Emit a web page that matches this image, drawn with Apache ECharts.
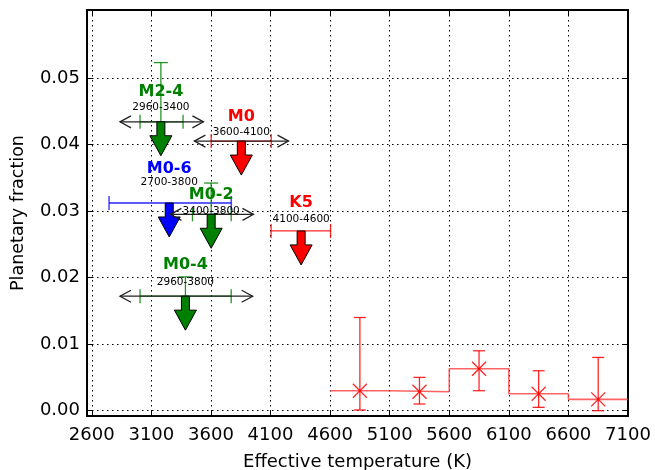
<!DOCTYPE html>
<html><head><meta charset="utf-8">
<script src="https://cdn.jsdelivr.net/npm/echarts@6/dist/echarts.min.js"></script>
<style>html,body{margin:0;padding:0;background:#fff}#c{width:655px;height:470px}</style>
</head><body><div id="c"></div>
<script>
// ---- data ----
const xTicks = [2600,3100,3600,4100,4600,5100,5600,6100,6600,7100];
const yTicks = [0,0.01,0.02,0.03,0.04,0.05];

const groupNames  = ['M2-4','M0','M0-6','M0-2','K5','M0-4'];
const groupRanges = ['2960-3400','3600-4100','2700-3800','3400-3800','4100-4600','2960-3800'];
const limitTeff   = [3180,3855,3250,3602,4357,3386];
const limitFrac   = [0.0434,0.0405,0.0312,0.0295,0.0270,0.0172];
const errTeffLow  = [3005,3602,2745,3445,4105,3005];
const errTeffHigh = [3366,4106,3770,3770,4604,3770];
const errFracHigh = [0.0523,null,null,0.0342,null,0.0201];
const spanTeffLow = [2837,3461,null,3260,null,2837];
const spanTeffHigh= [3537,4251,null,3957,null,3950];
const labelFrac   = [0.0479,0.0441,0.0364,0.0325,0.0312,0.0219];
const rangeFrac   = [0.0456,0.0419,0.0343,0.0300,0.0288,0.0193];

const binLow      = [4600,5100,5600,6100,6600];
const binHigh     = [5100,5600,6100,6600,7100];
const binCenter   = [4850,5350,5850,6350,6850];
const binFrac     = [0.0030,0.00285,0.0063,0.00255,0.0017];
const binFracLow  = [0.0001,0.0010,0.0030,0.0005,0.0000];
const binFracHigh = [0.0140,0.0050,0.0090,0.0060,0.0080];

// ---- styles ----
const groupColor = ['#008000','#ff0000','#0000ff','#008000','#ff0000','#008000'];
const ARROW_LEN = 0.0051;
const FONT = '"DejaVu Sans", "Liberation Sans", sans-serif';

const chart = echarts.init(document.getElementById('c'), null, {renderer:'canvas'});

function renderGroup(params, api) {
  const i = api.value(2);
  const c = groupColor[i];
  const y = limitFrac[i];
  const p = api.coord([limitTeff[i], y]);
  const tip = api.coord([limitTeff[i], y - ARROW_LEN]);
  const ch = [];
  // horizontal error bar
  const a = api.coord([errTeffLow[i], y]), b = api.coord([errTeffHigh[i], y]);
  const es = {stroke:c, lineWidth:1.3, opacity:0.85};
  ch.push({type:'line', shape:{x1:a[0],y1:a[1],x2:b[0],y2:b[1]}, style:es});
  ch.push({type:'line', shape:{x1:a[0],y1:a[1]-7,x2:a[0],y2:a[1]+7}, style:es});
  ch.push({type:'line', shape:{x1:b[0],y1:b[1]-7,x2:b[0],y2:b[1]+7}, style:es});
  // vertical error bar (upper)
  if (errFracHigh[i] != null) {
    const t = api.coord([limitTeff[i], errFracHigh[i]]);
    ch.push({type:'line', shape:{x1:p[0],y1:p[1],x2:t[0],y2:t[1]}, style:es});
    ch.push({type:'line', shape:{x1:t[0]-7,y1:t[1],x2:t[0]+7,y2:t[1]}, style:es});
  }
  // black double-headed span
  if (spanTeffLow[i] != null) {
    const l = api.coord([spanTeffLow[i], y]), r = api.coord([spanTeffHigh[i], y]);
    const ss = {stroke:'#222', lineWidth:1.3, fill:null};
    ch.push({type:'line', shape:{x1:l[0],y1:l[1],x2:r[0],y2:r[1]}, style:ss});
    ch.push({type:'polyline', shape:{points:[[l[0]+11,l[1]-6],[l[0],l[1]],[l[0]+11,l[1]+6]]}, style:ss});
    ch.push({type:'polyline', shape:{points:[[r[0]-11,r[1]-6],[r[0],r[1]],[r[0]-11,r[1]+6]]}, style:ss});
  }
  // downward arrow (upper limit)
  const x = p[0], hy = tip[1] - 20;
  ch.push({type:'polygon', shape:{points:[[x-4,p[1]],[x+4,p[1]],[x+4,hy],[x+11,hy],[x,tip[1]],[x-11,hy],[x-4,hy]]},
           style:{fill:c, stroke:'#000', lineWidth:1}});
  // labels
  const lp = api.coord([limitTeff[i], labelFrac[i]]);
  const rp = api.coord([limitTeff[i], rangeFrac[i]]);
  ch.push({type:'text', x:lp[0], y:lp[1], style:{text:groupNames[i], fill:c, font:'bold 16px '+FONT, align:'center', verticalAlign:'middle'}});
  ch.push({type:'text', x:rp[0], y:rp[1], style:{text:groupRanges[i], fill:'#000', font:'10.5px '+FONT, align:'center', verticalAlign:'middle'}});
  return {type:'group', children:ch};
}

function renderBin(params, api) {
  const i = api.value(2);
  const p = api.coord([binCenter[i], binFrac[i]]);
  const lo = api.coord([binCenter[i], binFracLow[i]]);
  const hi = api.coord([binCenter[i], binFracHigh[i]]);
  const s = {stroke:'#ff0000', lineWidth:1.3, opacity:0.85};
  const m = 7;
  return {type:'group', children:[
    {type:'line', shape:{x1:lo[0],y1:lo[1],x2:hi[0],y2:hi[1]}, style:s},
    {type:'line', shape:{x1:lo[0]-6,y1:lo[1],x2:lo[0]+6,y2:lo[1]}, style:s},
    {type:'line', shape:{x1:hi[0]-6,y1:hi[1],x2:hi[0]+6,y2:hi[1]}, style:s},
    {type:'line', shape:{x1:p[0]-m,y1:p[1]-m,x2:p[0]+m,y2:p[1]+m}, style:s},
    {type:'line', shape:{x1:p[0]-m,y1:p[1]+m,x2:p[0]+m,y2:p[1]-m}, style:s}
  ]};
}

const stepData = [];
binLow.forEach((l,i)=>{ stepData.push([l, binFrac[i]]); stepData.push([binHigh[i], binFrac[i]]); });

const XMIN = 2560, XMAX = 7100, YMIN = -0.0008, YMAX = 0.0602;
const frame = {onZero:false, lineStyle:{color:'#000', width:2}};
const grid = {type:[1.5,3.5], color:'#000', width:1};

chart.setOption({
  animation:false,
  backgroundColor:'#fff',
  grid:{left:87, right:27, top:10, bottom:54, containLabel:false, outerBoundsMode:'none'},
  xAxis:[
    {type:'value', min:XMIN, max:XMAX, position:'bottom', axisLine:frame,
     axisTick:{inside:true, length:6, customValues:xTicks, lineStyle:{color:'#000'}},
     axisLabel:{customValues:xTicks, fontSize:18, fontFamily:FONT, color:'#000', margin:10,
                formatter:v=>String(v)},
     splitLine:{show:true, lineStyle:grid},
     name:'Effective temperature (K)', nameLocation:'middle', nameGap:37,
     nameTextStyle:{fontSize:18, fontFamily:FONT, color:'#000'}},
    {type:'value', min:XMIN, max:XMAX, position:'top', axisLine:frame,
     axisTick:{inside:true, length:6, customValues:xTicks, lineStyle:{color:'#000'}},
     axisLabel:{show:false}, splitLine:{show:false}}
  ],
  yAxis:[
    {type:'value', min:YMIN, max:YMAX, position:'left', axisLine:frame,
     axisTick:{inside:true, length:6, customValues:yTicks, lineStyle:{color:'#000'}},
     axisLabel:{customValues:yTicks, fontSize:18, fontFamily:FONT, color:'#000', margin:7,
                formatter:v=>v.toFixed(2)},
     splitLine:{show:true, lineStyle:grid},
     name:'Planetary fraction', nameLocation:'middle', nameGap:60,
     nameTextStyle:{fontSize:17.5, fontFamily:FONT, color:'#000'}},
    {type:'value', min:YMIN, max:YMAX, position:'right', axisLine:frame,
     axisTick:{inside:true, length:6, customValues:yTicks, lineStyle:{color:'#000'}},
     axisLabel:{show:false}, splitLine:{show:false}}
  ],
  series:[
    {type:'line', data:stepData, showSymbol:false, symbol:'none',
     lineStyle:{color:'#ff3030', width:1.6, opacity:0.75}, z:3},
    {type:'custom', renderItem:renderBin,
     data:binCenter.map((x,i)=>[x, binFrac[i], i]), encode:{x:0,y:1}, z:4},
    {type:'custom', renderItem:renderGroup,
     data:limitTeff.map((x,i)=>[x, limitFrac[i], i]), encode:{x:0,y:1}, z:5}
  ]
});
</script></body></html>
